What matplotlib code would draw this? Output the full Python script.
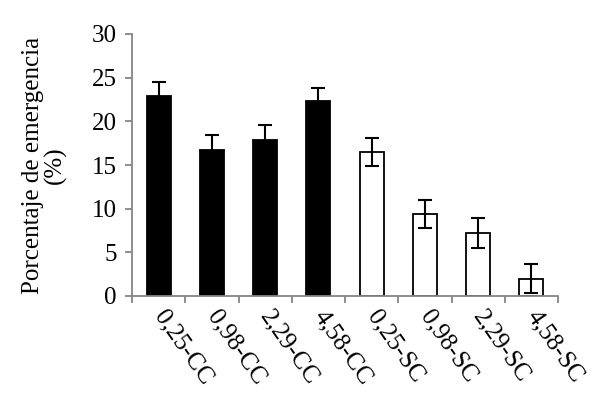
import matplotlib
matplotlib.use("Agg")
import matplotlib.pyplot as plt
import numpy as np

categories = ["0,25-CC", "0,98-CC", "2,29-CC", "4,58-CC", "0,25-SC", "0,98-SC", "2,29-SC", "4,58-SC"]
values = [22.9, 16.7, 17.9, 22.3, 16.5, 9.4, 7.2, 2.0]
errors = [1.6, 1.7, 1.7, 1.5, 1.6, 1.6, 1.7, 1.7]
fill_colors = ["black"] * 4 + ["white"] * 4

plt.rcParams['font.family'] = ['Liberation Serif', 'DejaVu Serif']
FS = 18
fig = plt.figure(figsize=(5.97, 3.97), dpi=100)
ax = fig.add_axes([132/597, 101/397, (558-132)/597, (296-34)/397])

x = np.arange(len(categories))
ax.bar(x, values, width=0.45, color=fill_colors, edgecolor="black", linewidth=1.3, zorder=2)
ax.errorbar(x, values, yerr=errors, fmt="none", ecolor="black", elinewidth=1.5, capsize=5, capthick=1.5, zorder=3)

ax.set_xlim(-0.5, len(categories) - 0.5)
ax.set_ylim(0, 30)
ax.set_yticks([0, 5, 10, 15, 20, 25, 30])
ax.set_xticks(np.arange(-0.5, len(categories), 1.0))
ax.set_xticklabels([])
ax.set_xticks(x, minor=True)
ax.set_xticklabels(categories, minor=True, rotation=-55, ha="left", va="center", rotation_mode="anchor", fontsize=FS)
ax.tick_params(axis="x", which="minor", length=0, pad=12)
ax.tick_params(axis="x", which="major", length=5, width=1.3, color="#868686", direction="out")
ax.tick_params(axis="y", length=5, width=1.3, color="#868686", direction="out", labelsize=FS, pad=6)

for s in ["top", "right"]:
    ax.spines[s].set_visible(False)
for s in ["left", "bottom"]:
    ax.spines[s].set_color("#868686")
    ax.spines[s].set_linewidth(1.3)

ax.set_ylabel("Porcentaje de emergencia\n(%)", fontsize=FS, linespacing=1.0)
ax.yaxis.set_label_coords(-0.153, 0.5)

fig.savefig("out.png", dpi=100)
